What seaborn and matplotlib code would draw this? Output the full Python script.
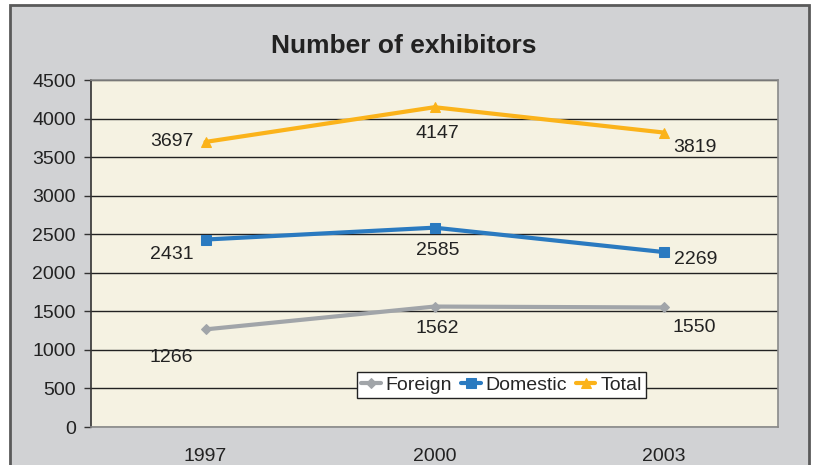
import matplotlib
matplotlib.use("Agg")
import matplotlib.pyplot as plt
import seaborn as sns
import pandas as pd
from matplotlib.patches import Rectangle

years = ["1997", "2000", "2003"]
foreign = [1266, 1562, 1550]
domestic = [2431, 2585, 2269]
total = [3697, 4147, 3819]
yticks = [0, 500, 1000, 1500, 2000, 2500, 3000, 3500, 4000, 4500]

sns.set_theme(style="white")
plt.rcParams['font.family'] = ['Liberation Sans', 'DejaVu Sans']

fig = plt.figure(figsize=(8.13, 4.65), dpi=100)
fig.patch.set_facecolor("white")
fig.patches.append(Rectangle((10/813, -0.1), (809-10)/813, 1 - 5/465 + 0.1,
                             transform=fig.transFigure, facecolor="#d1d2d4",
                             edgecolor="#5a5a5a", linewidth=2, zorder=-5))

ax = fig.add_axes([91/813, 1-427/465, (778-91)/813, (427-80)/465])
ax.set_zorder(2)
ax.set_facecolor("#f5f2e2")

xs = list(range(len(years)))
series = [
    ("Foreign", foreign, "#a1a5a9", "D", 5),
    ("Domestic", domestic, "#2a7ac0", "s", 6.5),
    ("Total", total, "#fbb31a", "^", 7.5),
]
for name, vals, col, mk, ms in series:
    sns.lineplot(x=xs, y=vals, ax=ax, color=col, marker=mk, markersize=ms,
                 markeredgecolor=col, linewidth=3, label=name, zorder=3)

FS = 14
ax.set_xlim(-0.5, 2.5)
ax.set_ylim(0, 4500)
ax.set_yticks(yticks)
ax.set_yticklabels([str(t) for t in yticks], fontsize=FS, color="#222222")
ax.yaxis.grid(True, color="#222222", linewidth=1)
ax.set_axisbelow(True)
ax.set_xticks(xs)
ax.set_xticklabels(years, fontsize=FS, color="#222222")
ax.set_xticks([-0.5, 0.5, 1.5, 2.5], minor=True)
ax.tick_params(axis="x", which="major", length=0, pad=15)
ax.tick_params(axis="x", which="minor", length=5, color="#333333", width=1, direction="out")
ax.tick_params(axis="y", length=5, color="#333333", width=1, direction="out", left=True, pad=6)

for side in ["left"]:
    ax.spines[side].set_color("#333333")
    ax.spines[side].set_linewidth(1.2)
for side in ["top", "right", "bottom"]:
    ax.spines[side].set_color("#8a8a8a")
    ax.spines[side].set_linewidth(1.2)

offsets = {
    "Total": [(-34, 0), (3, -26), (31, -15)],
    "Domestic": [(-34, -15), (3, -23), (32, -7)],
    "Foreign": [(-34, -28), (3, -22), (31, -20)],
}
for name, vals, col, mk, ms in series:
    for i, v in enumerate(vals):
        ax.annotate(str(v), xy=(i, v), xytext=offsets[name][i],
                    textcoords="offset pixels", ha="center", va="center",
                    fontsize=FS, color="#222222", zorder=4)

leg = ax.legend(loc="center", bbox_to_anchor=((501.5-91)/687, (427-385)/347),
                ncol=3, fontsize=FS, frameon=True, fancybox=False,
                handlelength=1.0, handletextpad=0.26, columnspacing=0.45,
                borderpad=0.2, borderaxespad=0)
leg.get_frame().set_edgecolor("#222222")
leg.get_frame().set_facecolor("white")
leg.get_frame().set_linewidth(1)
leg.get_frame().set_alpha(1)

fig.text(404/813, 1-46/465, "Number of exhibitors", ha="center", va="center",
         fontsize=19, fontweight="bold", color="#222222")

fig.savefig("out.png", dpi=100)
